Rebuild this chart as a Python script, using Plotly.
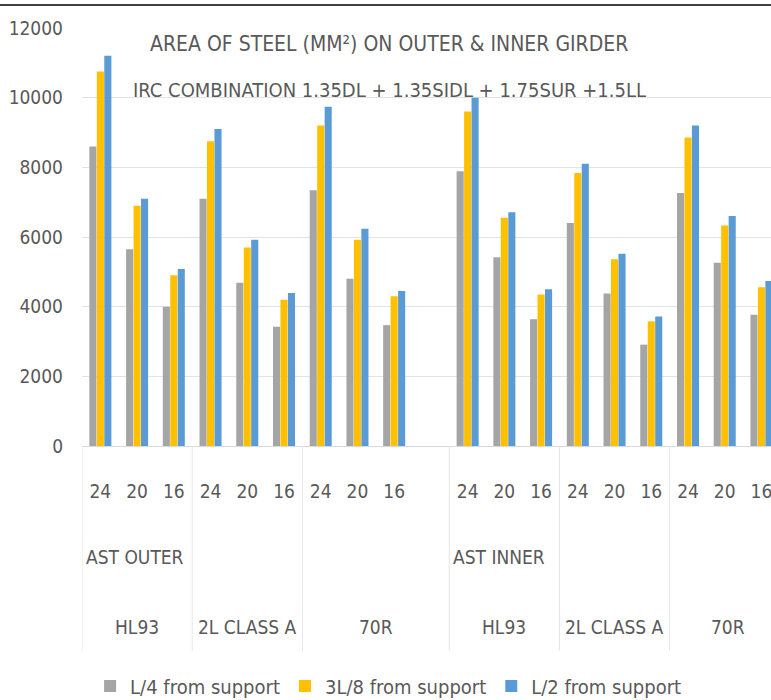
import plotly.graph_objects as go

sizes = ["24", "20", "16"]
loads = ["HL93", "2L CLASS A", "70R"]
girders = ["AST OUTER", "AST INNER"]
series_names = ["L/4 from support", "3L/8 from support", "L/2 from support"]
colors = ["#A5A5A5", "#FFC000", "#5B9BD5"]

# order: AST OUTER (HL93 24,20,16, 2L 24,20,16, 70R 24,20,16), then AST INNER same
l4 = [8600, 5650, 4000, 7100, 4690, 3420, 7340, 4800, 3470,
      7890, 5420, 3640, 6400, 4380, 2910, 7260, 5260, 3770]
l38 = [10750, 6900, 4900, 8750, 5700, 4200, 9200, 5920, 4300,
       9600, 6550, 4350, 7840, 5360, 3580, 8860, 6330, 4560]
l2 = [11200, 7100, 5080, 9100, 5920, 4390, 9740, 6240, 4450,
      10000, 6710, 4500, 8100, 5520, 3720, 9200, 6600, 4740]
yticks = [0, 2000, 4000, 6000, 8000, 10000, 12000]

# category slots: outer group uses slots 0-8 (+ empty slot 9), inner 10-18
xs = list(range(9)) + list(range(10, 19))
ticktext = sizes * 6

fig = go.Figure()
for name, vals, c in zip(series_names, [l4, l38, l2], colors):
    fig.add_trace(go.Bar(x=xs, y=vals, name=name, marker_color=c,
                         marker_line_width=0))

txt_color = "#595959"
font_family = "Liberation Sans Narrow, DejaVu Sans Condensed, sans-serif"

fig.update_layout(
    width=771, height=700,
    margin=dict(l=82, r=0, t=28, b=254, autoexpand=False),
    paper_bgcolor="white", plot_bgcolor="white",
    barmode="group", bargap=0.39, bargroupgap=0.05,
    font=dict(family=font_family, color=txt_color, size=18),
    showlegend=True,
    legend=dict(orientation="h", x=0.445, xanchor="center", y=-0.574,
                yanchor="middle", font=dict(size=20, color=txt_color),
                itemwidth=30, tracegroupgap=0),
)
fig.update_xaxes(range=[-0.5, 18.26], tickvals=xs, ticktext=ticktext,
                 showgrid=False, zeroline=False, showline=False, automargin=False,
                 ticks="", ticklabelstandoff=32, ticklabeloverflow="allow",
                 tickfont=dict(size=19, color=txt_color))
fig.update_yaxes(range=[0, 12000], tickvals=yticks, ticktext=[str(v) for v in yticks],
                 showgrid=True, gridcolor="#E3E3E3", gridwidth=1, automargin=False,
                 zeroline=True, zerolinecolor="#D9D9D9", zerolinewidth=1,
                 showline=False, ticks="", ticklabelstandoff=18,
                 tickfont=dict(size=19, color=txt_color))

# group dividers below the axis
for b in [-0.5, 2.5, 5.5, 9.5, 12.5, 15.5]:
    fig.add_shape(type="line", xref="x", yref="paper", x0=b, x1=b, y0=0, y1=-0.49,
                  line=dict(color="#E6E6E6", width=1))

# load group labels
load_pos = [1, 4, 7.5, 11, 14, 17.1]
for p, lab in zip(load_pos, loads * 2):
    fig.add_annotation(x=p, xref="x", y=(446 - 627) / 418, yref="paper", yanchor="middle",
                       text=lab, showarrow=False, font=dict(size=19, color=txt_color))
# girder labels
for p, lab in zip([-0.5, 9.5], girders):
    fig.add_annotation(x=p, xref="x", y=(446 - 557) / 418, yref="paper", yanchor="middle",
                       text=lab, xanchor="left", xshift=2, showarrow=False,
                       font=dict(size=19, color=txt_color))

# title inside plot
fig.add_annotation(x=7.87, xref="x", y=(446 - 44) / 418, yref="paper", yanchor="middle",
                   text="AREA OF STEEL (MM²) ON OUTER &amp; INNER GIRDER",
                   showarrow=False, font=dict(size=21, color=txt_color))
fig.add_annotation(x=7.87, xref="x", y=(446 - 90) / 418, yref="paper", yanchor="middle",
                   text="IRC COMBINATION 1.35DL + 1.35SIDL + 1.75SUR +1.5LL",
                   showarrow=False, font=dict(size=20, color=txt_color))

# thin black line at very top
fig.add_shape(type="line", xref="paper", yref="paper", x0=-82 / 689, x1=1,
              y0=(446 - 5) / 418, y1=(446 - 5) / 418, line=dict(color="black", width=1.5))

fig.write_html("out.html", config={"displayModeBar": False},
               post_script="document.body.style.margin='0';document.body.style.overflow='hidden';")
